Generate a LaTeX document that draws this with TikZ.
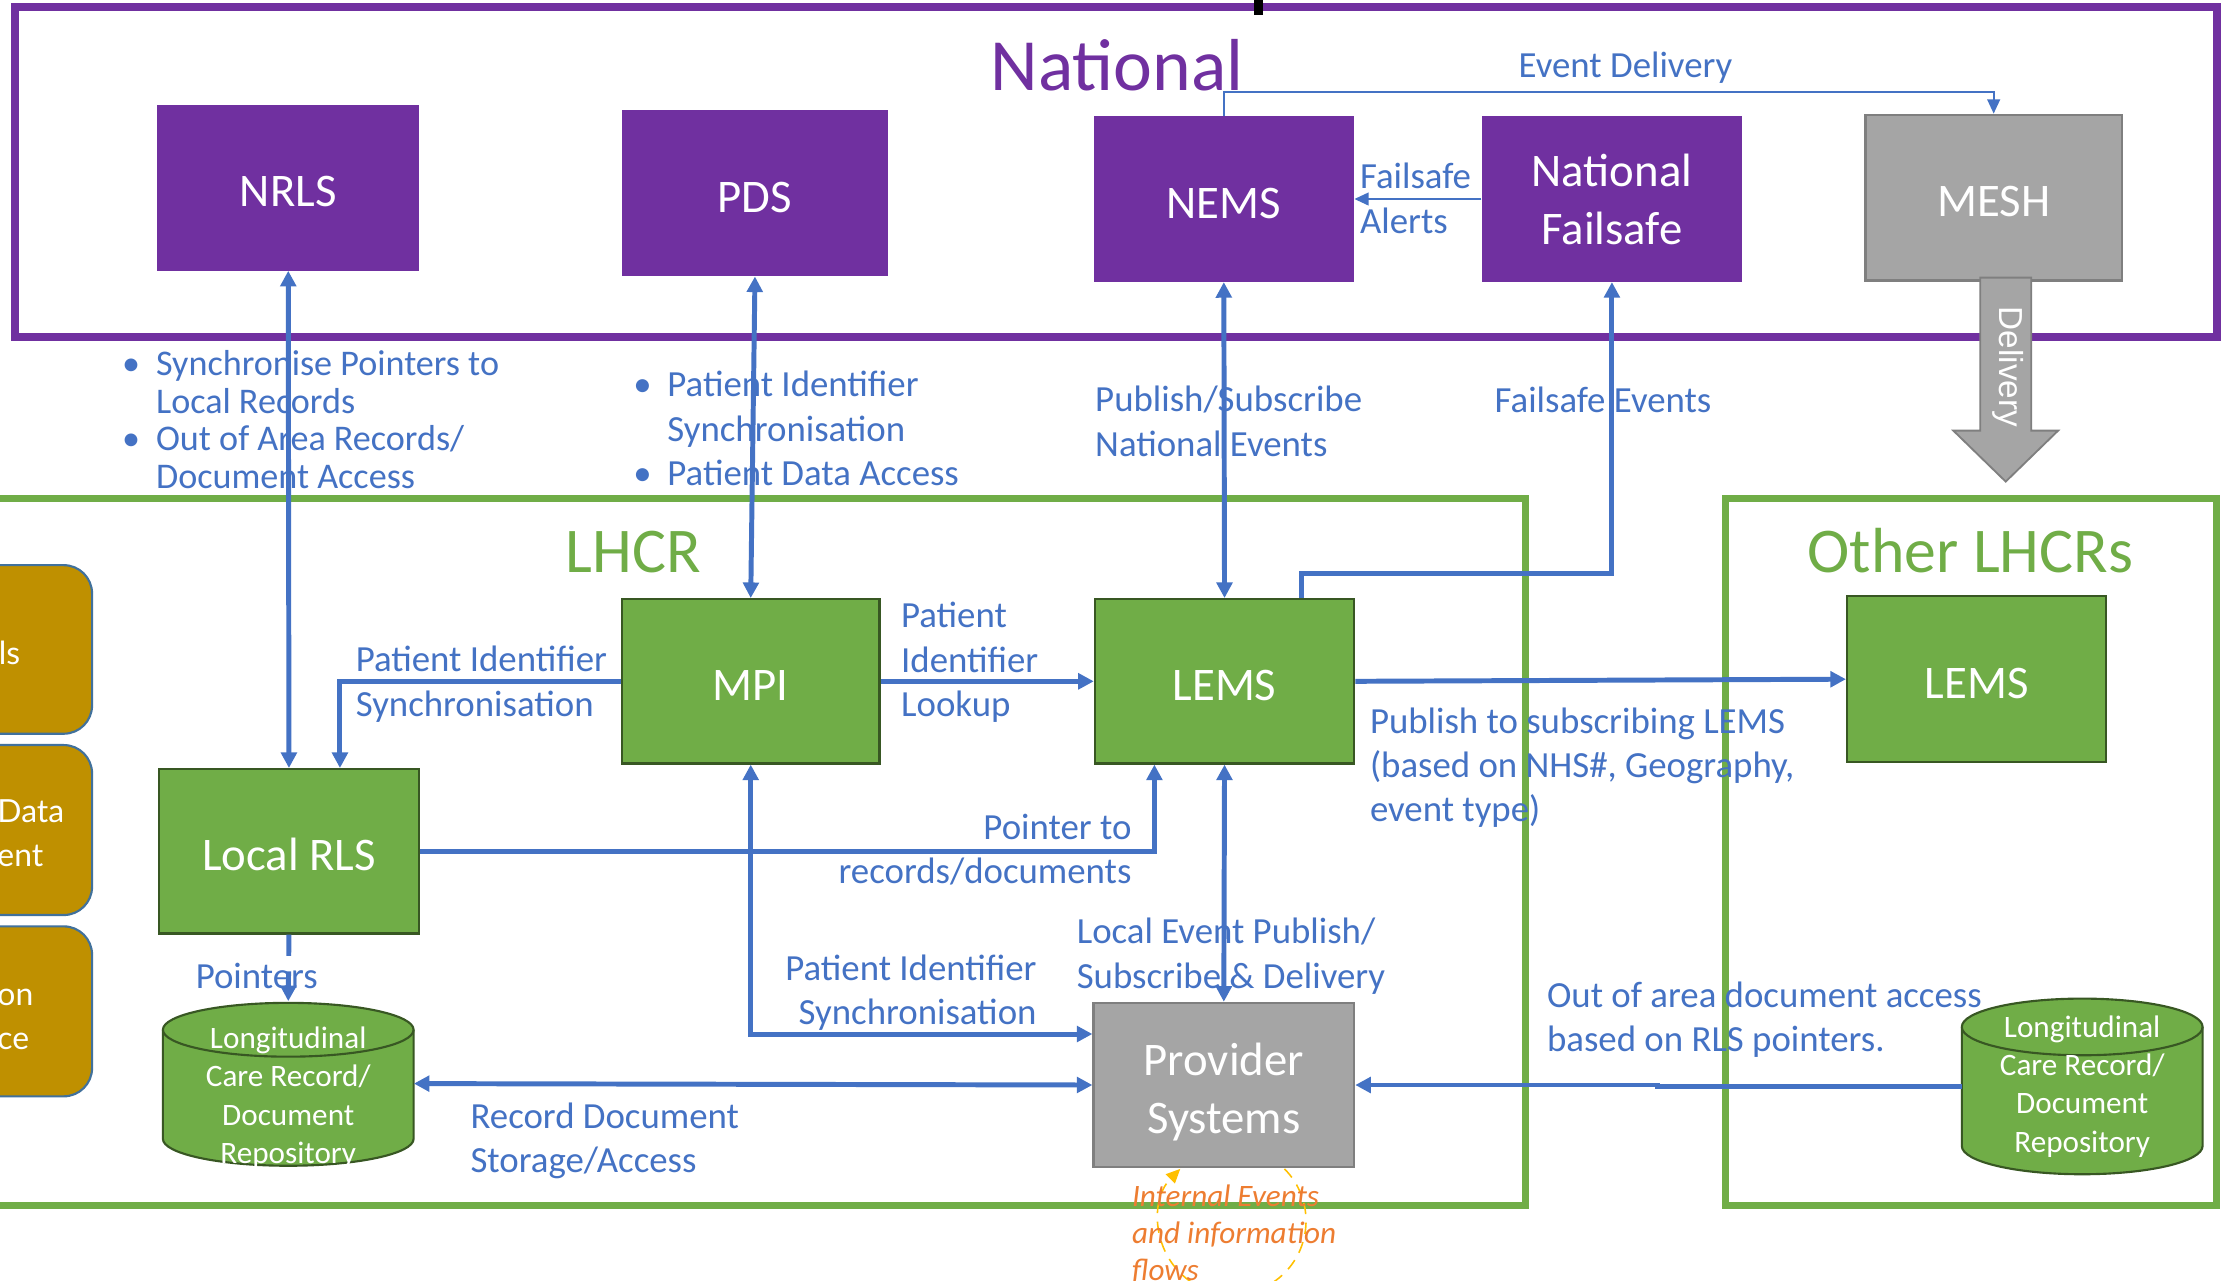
\documentclass[tikz,border=0pt]{standalone}
\usepackage{fontspec}
\setmainfont{Carlito}
\newfontfamily\latofont{Lato}
\newfontfamily\arialfont{Liberation Sans}
\usetikzlibrary{arrows.meta,calc}
\definecolor{nhspurple}{HTML}{7030A0}
\definecolor{lhcrgreen}{HTML}{70AD47}
\definecolor{darkgreen}{HTML}{385723}
\definecolor{linkblue}{HTML}{4472C4}
\definecolor{greyfill}{HTML}{A5A5A5}
\definecolor{greyborder}{HTML}{7F7F7F}
\definecolor{goldfill}{HTML}{BF9000}
\definecolor{goldborder}{HTML}{41719C}
\definecolor{orangetxt}{HTML}{ED7D31}
\definecolor{yellowline}{HTML}{FFC000}
\newcommand{\boxsize}{\fontsize{33}{41}\selectfont}
\newcommand{\lblsize}{\fontsize{26}{31.5}\selectfont}
\begin{document}
\begin{tikzpicture}[x=1pt,y=-1pt,
  >={Triangle[length=11pt,width=11pt]},
  natbox/.style={fill=nhspurple, text=white, font=\boxsize, inner sep=0pt, align=center},
  gbox/.style={fill=lhcrgreen, draw=darkgreen, line width=1.6pt, text=white, font=\boxsize, inner sep=0pt, align=center},
  greybox/.style={fill=greyfill, draw=greyborder, line width=1.6pt, text=white, font=\boxsize, inner sep=0pt, align=center},
  oneline/.style={text height=27pt, text depth=0pt},
  conn/.style={draw=linkblue, line width=3.5pt},
  thinconn/.style={draw=linkblue, line width=1.2pt},
  lbl/.style={text=linkblue, font=\lblsize, inner sep=0pt, align=left, anchor=base west},
  lblr/.style={text=linkblue, font=\lblsize, inner sep=0pt, align=right, anchor=base east},
  cylfill/.style={fill=lhcrgreen, draw=darkgreen, line width=1.5pt},
  cyltext/.style={text=white, font=\fontsize{22}{27}\selectfont, inner sep=0pt, align=center},
  goldbox/.style={fill=goldfill, draw=goldborder, line width=1.5pt, rounded corners=20pt},
  goldtxt/.style={text=white, font=\latofont\fontsize{22.5}{31}\selectfont, inner sep=0pt, align=left, anchor=base west},
  frame/.style={line width=5pt},
  anchorbox/.style={inner sep=0pt, draw=none}
]
\useasboundingbox (0,0) rectangle (1568,904);
\fill[white] (0,0) rectangle (1568,904);

% frames
\draw[frame, draw=nhspurple, line width=5.5pt] (10.5,5) rectangle (1565,238);
\draw[frame, draw=lhcrgreen] (-20,352) rectangle (1077,851);
\draw[frame, draw=lhcrgreen] (1218,352) rectangle (1565,851);
\fill[black] (885,0) rectangle (892,10.5);

% titles
\node[text=nhspurple, font=\fontsize{52}{60}\selectfont, inner sep=0pt, anchor=base] (tNat) at (788.5,64) {National};
\node[text=lhcrgreen, font=\fontsize{45}{52}\selectfont, inner sep=0pt, anchor=base] (tLHCR) at (447,404) {LHCR};
\node[text=lhcrgreen, font=\fontsize{45}{52}\selectfont, inner sep=0pt, anchor=base] (tOther) at (1391,404) {Other LHCRs};

% gold boxes at the left edge
\draw[goldbox] (-40,399) rectangle (65,518);
\draw[goldbox] (-40,526) rectangle (65,646);
\draw[goldbox] (-40,654) rectangle (65,774);
\node[goldtxt] (g1) at (-1,469) {ls};
\node[goldtxt] (g2) at (-2,612) {Data\\ent};
\node[goldtxt] (g3) at (-2,741) {on\\ce};

% national boxes
\node[natbox, oneline, minimum width=185pt, minimum height=117pt] (NRLS) at (203.5,132.5) {NRLS};
\node[natbox, oneline, minimum width=188pt, minimum height=117pt] (PDS) at (533,136.5) {PDS};
\node[natbox, oneline, minimum width=184pt, minimum height=117pt] (NEMS) at (864,140.5) {NEMS};
\node[natbox, minimum width=184pt, minimum height=117pt] (NF) at (1138,140.5) {National\\Failsafe};
\node[greybox, oneline, minimum width=181pt, minimum height=117pt] (MESH) at (1407.5,139.5) {MESH};

% LHCR boxes
\node[gbox, oneline, minimum width=182pt, minimum height=116pt] (MPI) at (530,481) {MPI};
\node[gbox, oneline, minimum width=183pt, minimum height=116pt] (LEMS) at (864.5,481) {LEMS};
\node[gbox, oneline, minimum width=184pt, minimum height=116pt] (RLS) at (204,601) {Local RLS};
\node[gbox, oneline, minimum width=183pt, minimum height=117pt] (oLEMS) at (1395.5,479.5) {LEMS};
\node[greybox, minimum width=184pt, minimum height=116pt] (Prov) at (864,766) {};
\node[text=white, font=\boxsize, inner sep=0pt, align=center] (Provt) at (864,771) {Provider\\Systems};

% cylinders
\node[anchorbox, minimum width=177pt, minimum height=116pt] (cylL) at (203.5,765) {};
\path[cylfill] (115,727) -- (115,804) arc[start angle=180,end angle=0,x radius=88.5,y radius=19]
  -- (292,727) arc[start angle=0,end angle=-180,x radius=88.5,y radius=19] -- cycle;
\draw[darkgreen, line width=1.5pt] (115,727) arc[start angle=180,end angle=0,x radius=88.5,y radius=19];
\node[cyltext] (cylLt) at (203.5,775) {Longitudinal\\Care Record/\\Document\\Repository};

\node[anchorbox, minimum width=170pt, minimum height=124pt] (cylR) at (1470,767) {};
\path[cylfill] (1385,725) -- (1385,809) arc[start angle=180,end angle=0,x radius=85,y radius=20]
  -- (1555,725) arc[start angle=0,end angle=-180,x radius=85,y radius=20] -- cycle;
\draw[darkgreen, line width=1.5pt] (1385,725) arc[start angle=180,end angle=0,x radius=85,y radius=20];
\node[cyltext] (cylRt) at (1470,767) {Longitudinal\\Care Record/\\Document\\Repository};

% MESH delivery block arrow
\draw[fill=greyfill, draw=greyborder, line width=1.3pt]
  (1398,196) -- (1398,304) -- (1379,304) -- (1416,340) -- (1453,304) -- (1434,304) -- (1434,196) -- cycle;
\node[text=white, font=\arialfont\fontsize{23.5}{28}\selectfont, inner sep=0pt, rotate=-90] (deliv) at (1418,259) {Delivery};

% connectors
\coordinate (jog) at (1170,0);
\draw[conn,<->] (NRLS.south) -- (RLS.north);
\draw[conn,<->] (PDS.south) -- (MPI.north);
\draw[conn,<->] (NEMS.south) -- (LEMS.north);
\draw[conn,->] ([xshift=54.5pt]LEMS.north) -- ++(0,-17) -| (NF.south);
\draw[thinconn,-{Triangle[length=10pt,width=9pt]}] (NF.west) -- (NEMS.east);
\draw[thinconn,-{Triangle[length=10pt,width=9pt]}] (NEMS.north) -- ++(0,-17) -| (MESH.north);
\draw[conn,->] (MPI.west) -| ([xshift=36pt]RLS.north);
\draw[conn,->] (MPI.east) -- (LEMS.west);
\draw[conn,->] (LEMS.east) -- (oLEMS.west);
\draw[conn,->] (RLS.east) -| ([xshift=-49.5pt]LEMS.south);
\draw[conn,<->] (MPI.south) |- ([yshift=36pt]Prov.west);
\draw[conn,<->] (LEMS.south) -- (Prov.north);
\draw[conn,<->] (cylL.east) -- (Prov.west);
\draw[conn,->,dash pattern=on 15pt off 11pt on 80pt] (RLS.south) -- (cylL.north);
\draw[conn,->] (cylR.west) -- (cylR.west -| jog) -- (jog |- Prov.east) -- (Prov.east);
\draw[yellowline, line width=1.1pt, dash pattern=on 8pt off 6pt, -{Triangle[length=10pt,width=9pt]}]
  (906.8,825.2) arc[start angle=-45,end angle=225,radius=52];

% labels (base anchor = baseline of the last line)
\node[lbl, font=\fontsize{25.5}{26.7}\selectfont] (lNRLS) at (86,345)
  {\makebox[24pt][l]{•}Synchronise Pointers to\\\hspace*{24pt}Local Records\\\makebox[24pt][l]{•}Out of Area Records/\\\hspace*{24pt}Document Access};
\node[lbl] (lPDS) at (447,343)
  {\makebox[24pt][l]{•}Patient Identifier\\\hspace*{24pt}Synchronisation\\\makebox[24pt][l]{•}Patient Data Access};
\node[lbl] (lNEMS) at (773,322) {Publish/Subscribe\\National Events};
\node[lbl] (lFS) at (1055,291) {Failsafe Events};
\node[lbl] (lED) at (1072,55) {Event Delivery};
\node[lbl, font=\fontsize{26}{32}\selectfont] (lFA) at (960,165) {Failsafe\\Alerts};
\node[lbl, font=\fontsize{26}{32}\selectfont] (lPIS1) at (251,506) {Patient Identifier\\Synchronisation};
\node[lbl] (lPIL) at (636,506) {Patient\\Identifier\\Lookup};
\node[lblr, font=\fontsize{26}{31}\selectfont] (lPtr) at (799,624) {Pointer to\\records/documents};
\node[lblr, font=\fontsize{26}{31}\selectfont] (lPIS2) at (732,723) {Patient Identifier\\Synchronisation};
\node[lbl, font=\fontsize{26}{32}\selectfont] (lLEP) at (760,698) {Local Event Publish/\\Subscribe \& Delivery};
\node[lbl, font=\fontsize{26}{31}\selectfont] (lRDS) at (332,828) {Record Document\\Storage/Access};
\node[lbl] (lPtrs) at (138,698) {Pointers};
\node[lbl, font=\fontsize{26}{31}\selectfont] (lPub) at (967,580) {Publish to subscribing LEMS\\(based on NHS\#, Geography,\\event type)};
\node[lbl, font=\fontsize{26}{31}\selectfont] (lOOA) at (1092,742) {Out of area document access\\based on RLS pointers.};
\node[text=orangetxt, font=\itshape\fontsize{22}{26}\selectfont, inner sep=0pt, align=left, anchor=base west] (lInt) at (799,904) {Internal Events\\and information\\flows};
\end{tikzpicture}
\end{document}
